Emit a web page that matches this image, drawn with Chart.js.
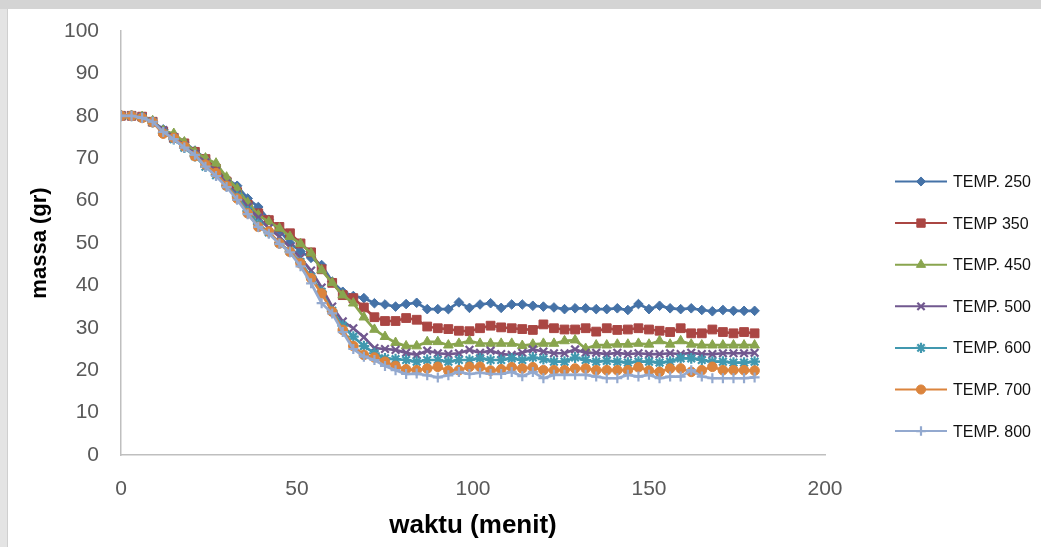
<!DOCTYPE html>
<html>
<head>
<meta charset="utf-8">
<script src="https://cdn.jsdelivr.net/npm/chart.js@4.4.0/dist/chart.umd.min.js"></script>
<style>
  html, body { margin: 0; padding: 0; width: 1041px; height: 547px; overflow: hidden; background: #d4d4d4; }
  #strip { position: absolute; left: 0; top: 9px; width: 7px; height: 538px; background: #e4e4e4; }
  #panel { position: absolute; left: 7px; top: 9px; width: 1034px; height: 538px; background: #ffffff; border-left: 1px solid #cfcfcf; box-sizing: border-box; }
  canvas { display: block; margin-left: -1px; }
</style>
</head>
<body>
<div id="strip"></div>
<div id="panel"><canvas id="chart" width="1034" height="538"></canvas></div>
<script>
// Sampling times (minutes)
const minutes = [0, 3, 6, 9, 12, 15, 18, 21, 24, 27, 30, 33, 36, 39, 42, 45, 48, 51, 54, 57,
  60, 63, 66, 69, 72, 75, 78, 81, 84, 87, 90, 93, 96, 99, 102, 105, 108, 111, 114, 117,
  120, 123, 126, 129, 132, 135, 138, 141, 144, 147, 150, 153, 156, 159, 162, 165, 168, 171, 174, 177, 180];

// Remaining mass (gr) for each drying temperature
const temp250 = [80, 80, 79.7, 78.7, 76.8, 75.2, 73.8, 71.8, 70, 67.5,
  65.2, 63.5, 60.5, 58.5, 55.5, 53, 50, 48, 46.5, 44.8,
  40.9, 38.5, 37.5, 37, 35.8, 35.5, 35, 35.6, 35.9, 34.4,
  34.4, 34.4, 36, 34.7, 35.5, 35.8, 34.7, 35.5, 35.5, 35.2,
  35, 34.8, 34.4, 34.6, 34.6, 34.4, 34.4, 34.6, 34.2, 35.6,
  34.4, 35.2, 34.6, 34.4, 34.6, 34.2, 33.9, 34.2, 34, 34, 34];
const temp350 = [80, 80, 79.8, 78.6, 76.3, 74.8, 73.5, 71.5, 69.8, 67.5,
  64.5, 62, 59, 57, 55.4, 53.8, 52.3, 49.9, 47.8, 43.8,
  40.6, 37.7, 37, 34.8, 32.5, 31.6, 31.6, 32.3, 31.9, 30.3,
  29.9, 29.7, 29.3, 29.2, 29.9, 30.5, 30.1, 29.9, 29.7, 29.5,
  30.8, 29.9, 29.6, 29.6, 29.9, 29.1, 29.9, 29.5, 29.6, 29.9,
  29.6, 29.3, 29, 29.9, 28.7, 28.7, 29.6, 29, 28.7, 29, 28.7];
const temp450 = [80, 80, 79.8, 78.8, 76.5, 75.8, 73.8, 71.5, 70, 68.8,
  65.5, 62.8, 59.5, 56.6, 55, 53.5, 51.5, 49.8, 47.6, 43.6,
  40.6, 37.7, 35.8, 32.5, 29.6, 27.9, 26.5, 25.7, 25.7, 26.7,
  26.7, 25.9, 26.3, 26.9, 26.3, 26.3, 26.3, 26.3, 25.8, 26.1,
  26.3, 26.3, 26.9, 27.1, 25.1, 25.9, 25.9, 26.1, 26.1, 26.3,
  26.1, 26.9, 26.1, 26.9, 26.1, 25.9, 25.9, 25.9, 25.9, 25.9, 25.9];
const temp500 = [80, 80, 79.7, 78.6, 76.6, 75, 73, 71, 69, 67,
  64, 61.5, 58.5, 56, 53.5, 51.5, 49, 46.5, 43.5, 39.5,
  35, 31.5, 29.9, 27.8, 25.2, 25, 24.8, 24.1, 23.6, 24.6,
  24, 23.8, 24, 24.8, 24.1, 24.6, 23.8, 23.6, 24.1, 24.9,
  24.4, 24, 24, 24.9, 24.1, 24.1, 23.8, 24.1, 23.8, 24,
  23.8, 23.8, 24, 23.8, 24.1, 23.8, 23.8, 24, 24, 24, 24.1];
const temp600 = [80, 80, 79.6, 78.5, 76, 74.5, 72.5, 70.5, 68, 66,
  63.5, 61, 57.5, 54.5, 52.5, 50, 48, 45.5, 42, 38.5,
  34, 30.5, 27.9, 25.7, 24, 22.8, 22.6, 22.4, 22, 22.4,
  22.4, 22, 22.4, 22.4, 22.8, 22.4, 22.4, 22.8, 22.4, 23,
  22.6, 22, 22, 23, 22.4, 22, 22.2, 22, 21.8, 22,
  22, 21.8, 22, 22.8, 22.8, 22.4, 22, 22, 21.8, 21.8, 22];
const temp700 = [80, 80, 79.5, 78.5, 75.8, 74.8, 72.8, 70.5, 68.5, 66.5,
  63.5, 60.5, 57, 53.8, 52.7, 49.9, 47.9, 45.2, 41.7, 38.1,
  33.8, 29.5, 25.7, 23.6, 23, 22, 21, 20.2, 20, 20.4,
  20.8, 19.9, 20, 20.8, 20.8, 19.9, 20.2, 20.7, 20.4, 20.7,
  20, 20, 20, 20.4, 20.4, 20, 20, 20, 20, 20.7,
  19.9, 19.6, 20.4, 20.4, 19.6, 20, 20.8, 20, 20, 20, 19.9];
const temp800 = [80, 80, 79.5, 78.6, 76.2, 74.5, 72.5, 70.8, 68, 65.8,
  63.2, 60.2, 56.8, 53.8, 52.2, 49.8, 47.8, 44.5, 40.5, 35.8,
  33.4, 29, 25, 23.2, 22.4, 21, 20, 19.1, 19.2, 18.8,
  18.3, 18.8, 19.6, 19.1, 19.4, 19.1, 19.1, 19.6, 18.6, 19.6,
  18.1, 18.9, 18.9, 18.9, 18.9, 18.5, 18.1, 18.1, 18.9, 18.5,
  18.9, 18.1, 18.5, 18.5, 20, 18.5, 18.1, 18.1, 18.1, 18.1, 18.3];

const seriesNames = ['TEMP. 250', 'TEMP 350', 'TEMP. 450', 'TEMP. 500', 'TEMP. 600', 'TEMP. 700', 'TEMP. 800'];
const seriesValues = [temp250, temp350, temp450, temp500, temp600, temp700, temp800];

const xTicks = [0, 50, 100, 150, 200];
const yTicks = [0, 10, 20, 30, 40, 50, 60, 70, 80, 90, 100];

// Styling
const colors = ['#4572A7', '#AA4643', '#89A54E', '#71588F', '#4198AF', '#DB843D', '#93A9CF'];
const markers = ['rectRot', 'rect', 'triangle', 'crossRot', 'star', 'circle', 'cross'];
const markerSizes = [4.8, 6.2, 5.6, 5.4, 5.4, 4.8, 5];
const markerBorders = [1, 1, 1, 2.2, 2.2, 1, 2.2];

const datasets = seriesNames.map((name, i) => ({
  label: name,
  data: minutes.map((t, k) => ({ x: t, y: seriesValues[i][k] })),
  borderColor: colors[i],
  backgroundColor: colors[i],
  borderWidth: 2.7,
  pointStyle: markers[i],
  pointRadius: markerSizes[i],
  pointBorderWidth: markerBorders[i],
  pointBorderColor: colors[i],
  pointBackgroundColor: colors[i],
  tension: 0,
  order: seriesNames.length - 1 - i
}));

// Vertical legend on the right: line sample with marker, then the label
const sideLegend = {
  id: 'sideLegend',
  afterDraw(chart) {
    const ctx = chart.ctx;
    ctx.save();
    chart.data.datasets.forEach((ds, i) => {
      const y = 172.5 + i * 41.6;
      ctx.strokeStyle = ds.borderColor;
      ctx.lineWidth = 2;
      ctx.beginPath();
      ctx.moveTo(888, y);
      ctx.lineTo(940, y);
      ctx.stroke();
      ctx.fillStyle = ds.borderColor;
      ctx.strokeStyle = ds.borderColor;
      ctx.lineWidth = ds.pointBorderWidth;
      if (Chart.helpers && Chart.helpers.drawPoint) {
        Chart.helpers.drawPoint(ctx, {
          pointStyle: ds.pointStyle,
          radius: ds.pointRadius * 0.95,
          borderWidth: ds.pointBorderWidth,
          rotation: 0
        }, 914, y);
      } else {
        ctx.beginPath();
        ctx.arc(914, y, ds.pointRadius, 0, Math.PI * 2);
        ctx.fill();
      }
      ctx.fillStyle = '#111111';
      ctx.font = '16px "Liberation Sans", Arial, sans-serif';
      ctx.textAlign = 'left';
      ctx.textBaseline = 'middle';
      ctx.fillText(ds.label, 946, y + 1);
    });
    ctx.restore();
  }
};

new Chart(document.getElementById('chart'), {
  type: 'line',
  data: { datasets },
  plugins: [sideLegend],
  options: {
    responsive: false,
    animation: false,
    devicePixelRatio: 1,
    layout: { padding: { left: 20, top: 22, right: 216, bottom: 6 } },
    plugins: { legend: { display: false }, tooltip: { enabled: false } },
    scales: {
      x: {
        type: 'linear',
        min: 0,
        max: 200,
        afterFit(scale) { scale.height = 86; },
        afterBuildTicks(scale) { scale.ticks = xTicks.map(v => ({ value: v })); },
        grid: { display: false, drawTicks: false },
        border: { display: true, color: '#bfbfbf', width: 1.5 },
        ticks: {
          padding: 22,
          color: '#595959',
          font: { family: '"Liberation Sans", Arial, sans-serif', size: 21 }
        },
        title: {
          display: true,
          text: 'waktu (menit)',
          color: '#000000',
          padding: { top: 0, bottom: 0 },
          font: { family: '"Liberation Sans", Arial, sans-serif', size: 26, weight: 'bold' }
        }
      },
      y: {
        type: 'linear',
        min: 0,
        max: 100,
        afterFit(scale) {
          scale.width = 94;
          scale.paddingTop = 0;
          scale.paddingBottom = 0;
        },
        afterBuildTicks(scale) { scale.ticks = yTicks.map(v => ({ value: v })); },
        grid: { display: false, drawTicks: false },
        border: { display: true, color: '#bfbfbf', width: 1.5 },
        ticks: {
          padding: 22,
          color: '#595959',
          font: { family: '"Liberation Sans", Arial, sans-serif', size: 21 }
        },
        title: {
          display: true,
          text: 'massa (gr)',
          color: '#000000',
          padding: { top: 0, bottom: 0 },
          font: { family: '"Liberation Sans", Arial, sans-serif', size: 22, weight: 'bold' }
        }
      }
    }
  }
});
</script>
</body>
</html>
